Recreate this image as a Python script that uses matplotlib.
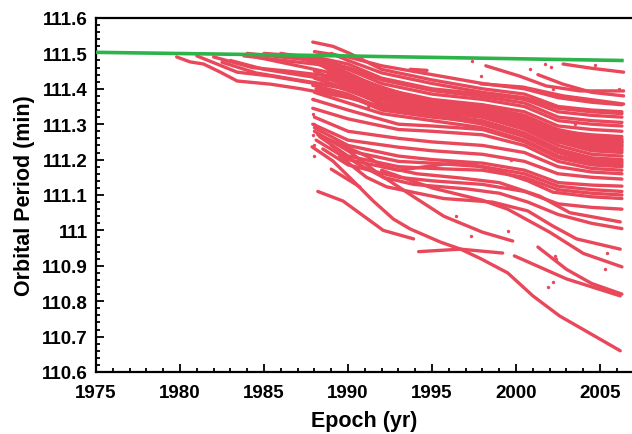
import matplotlib
matplotlib.use('Agg')
import matplotlib.pyplot as plt
from matplotlib.ticker import MultipleLocator, FuncFormatter

# --- datos: (epoca, periodo) ---
# linea verde (objeto principal)
green_years = [1975.0, 1987.0, 2006.3]
green_period = [111.503, 111.495, 111.480]

# abanico que empieza antes de 1988
fan_tracks = [
    [(1979.8, 111.49), (1980.6, 111.476), (1981.4, 111.47), (1982.4, 111.447), (1983.4, 111.422),
     (1985.4, 111.413), (1987.2, 111.40), (1988.9, 111.385), (1990, 111.375), (1992, 111.35),
     (1995, 111.335), (1998, 111.32), (2000.5, 111.29), (2002.5, 111.25), (2004.5, 111.24), (2006.3, 111.235)],
    [(1981, 111.493), (1983.4, 111.447), (1985.4, 111.436), (1988.9, 111.408), (1990, 111.40),
     (1992, 111.37), (1995, 111.345), (1998, 111.33), (2000.5, 111.305), (2002.5, 111.265),
     (2004.5, 111.255), (2006.3, 111.25)],
    [(1982, 111.49), (1984.3, 111.46), (1986.4, 111.45), (1988.9, 111.436), (1990, 111.425),
     (1992, 111.385), (1995, 111.355), (1998, 111.34), (2000.5, 111.32), (2002.5, 111.28),
     (2004.5, 111.27), (2006.3, 111.265)],
    [(1983.8, 111.493), (1988.9, 111.465), (1990, 111.445), (1992, 111.40), (1995, 111.37),
     (1998, 111.355), (2000.5, 111.335), (2002.5, 111.295), (2004.5, 111.285), (2006.3, 111.28)],
    [(1984, 111.50), (1988, 111.48), (1990, 111.455), (1992, 111.415), (1995, 111.385),
     (1998, 111.37), (2000.5, 111.35), (2002.5, 111.31), (2004.5, 111.30), (2006.3, 111.295)],
    [(1985, 111.50), (1988, 111.49), (1990, 111.47), (1992, 111.43), (1995, 111.40),
     (1998, 111.385), (2000.5, 111.37), (2002.5, 111.335), (2004.5, 111.325), (2006.3, 111.32)],
    [(1986.5, 111.495), (1988, 111.475), (1990, 111.44), (1992, 111.405), (1995, 111.36),
     (1998, 111.35), (2000.5, 111.325), (2002.5, 111.285), (2004.5, 111.265), (2006.3, 111.258)],
    [(1986, 111.50), (1988, 111.485), (1990, 111.46), (1992, 111.425), (1995, 111.395),
     (1998, 111.378), (2000.5, 111.36), (2002.5, 111.32), (2004.5, 111.31), (2006.3, 111.305)],
    [(1984.5, 111.49), (1987, 111.465), (1988.5, 111.45), (1990, 111.43), (1992, 111.39),
     (1995, 111.355), (1998, 111.34), (2000.5, 111.31), (2002.5, 111.27), (2004.5, 111.26), (2006.3, 111.255)],
    [(1983, 111.48), (1985, 111.455), (1987, 111.44), (1989, 111.425), (1990, 111.41),
     (1992, 111.375), (1995, 111.35), (1998, 111.33), (2000.5, 111.30), (2002.5, 111.26),
     (2004.5, 111.245), (2006.3, 111.24)],
    [(1982.5, 111.475), (1984.5, 111.445), (1987, 111.425), (1989, 111.41), (1990, 111.395),
     (1992, 111.36), (1995, 111.34), (1998, 111.325), (2000.5, 111.295), (2002.5, 111.255),
     (2004.5, 111.235), (2006.3, 111.23)],
]

# fragmentos que aparecen hacia 1988
band_tracks = [
    [(1988.0, 111.505), (1990, 111.49), (1992, 111.465), (1995, 111.44), (1998, 111.415),
     (2000.5, 111.40), (2002.5, 111.375), (2004.5, 111.362), (2006.3, 111.355)],
    [(1987.9, 111.532), (1989.1, 111.52), (1990.1, 111.50), (1992, 111.455), (1995, 111.425),
     (1998, 111.40), (2000.5, 111.385), (2002.5, 111.35), (2004.5, 111.34), (2006.3, 111.335)],
    [(1989, 111.50), (1990, 111.48), (1992, 111.445), (1995, 111.415), (1998, 111.39),
     (2000.5, 111.375), (2002.5, 111.345), (2004.5, 111.335), (2006.3, 111.33)],
    [(1988.3, 111.48), (1990, 111.43), (1992, 111.395), (1995, 111.365), (1998, 111.345),
     (2000.5, 111.31), (2002.5, 111.275), (2004.5, 111.245), (2006.3, 111.24)],
    [(1988.2, 111.47), (1990, 111.435), (1992, 111.39), (1995, 111.36), (1998, 111.34),
     (2000.5, 111.315), (2002.5, 111.27), (2004.5, 111.25), (2006.3, 111.245)],
    [(1988.5, 111.465), (1990, 111.415), (1992, 111.38), (1995, 111.35), (1998, 111.335),
     (2000.5, 111.30), (2002.5, 111.255), (2004.5, 111.23), (2006.3, 111.225)],
    [(1988.8, 111.44), (1990, 111.42), (1992, 111.385), (1995, 111.355), (1998, 111.34),
     (2000.5, 111.32), (2002.5, 111.28), (2004.5, 111.255), (2006.3, 111.25)],
    [(1988.0, 111.45), (1990, 111.41), (1992, 111.36), (1995, 111.34), (1998, 111.32),
     (2000.5, 111.285), (2002.5, 111.24), (2004.5, 111.215), (2006.3, 111.21)],
    [(1988.4, 111.44), (1990, 111.405), (1992, 111.37), (1995, 111.345), (1998, 111.325),
     (2000.5, 111.295), (2002.5, 111.25), (2004.5, 111.225), (2006.3, 111.22)],
    [(1988.0, 111.43), (1990, 111.40), (1992, 111.355), (1995, 111.33), (1998, 111.31),
     (2000.5, 111.275), (2002.5, 111.23), (2004.5, 111.205), (2006.3, 111.20)],
    [(1987.9, 111.41), (1990, 111.385), (1992, 111.345), (1995, 111.325), (1998, 111.30),
     (2000.5, 111.265), (2002.5, 111.22), (2004.5, 111.195), (2006.3, 111.19)],
    [(1988.1, 111.40), (1990, 111.38), (1992, 111.34), (1995, 111.32), (1998, 111.305),
     (2000.5, 111.27), (2002.5, 111.225), (2004.5, 111.20), (2006.3, 111.195)],
    [(1988, 111.39), (1990, 111.36), (1992, 111.33), (1995, 111.31), (1998, 111.29),
     (2000.5, 111.255), (2002.5, 111.21), (2004.5, 111.19), (2006.3, 111.185)],
    [(1987.9, 111.37), (1990, 111.34), (1993, 111.30), (1995, 111.295), (1998, 111.285),
     (2000.5, 111.25), (2002.5, 111.205), (2004.5, 111.185), (2006.3, 111.18)],
    [(1987.9, 111.345), (1990, 111.315), (1993, 111.285), (1995, 111.28), (1998, 111.27),
     (2000.5, 111.24), (2002.5, 111.195), (2004.5, 111.175), (2006.3, 111.17)],
    [(1988.0, 111.32), (1990, 111.28), (1993, 111.26), (1995, 111.25), (1998, 111.24),
     (2000.5, 111.22), (2002.5, 111.18), (2004.5, 111.165), (2006.3, 111.16)],
    [(1987.9, 111.30), (1990, 111.255), (1993, 111.235), (1995, 111.225), (1998, 111.215),
     (2000.5, 111.195), (2002.5, 111.16), (2004.5, 111.15), (2006.3, 111.145)],
    [(1988.0, 111.29), (1990, 111.24), (1993, 111.21), (1995, 111.20), (1998, 111.19),
     (2000.5, 111.17), (2002.5, 111.135), (2004.5, 111.128), (2006.3, 111.125)],
    [(1988.0, 111.28), (1990, 111.225), (1993, 111.195), (1995, 111.19), (1998, 111.18),
     (2000.5, 111.16), (2002.5, 111.125), (2004.5, 111.115), (2006.3, 111.11)],
    [(1988.3, 111.265), (1990, 111.21), (1993, 111.18), (1995, 111.175), (1998, 111.17),
     (2000.5, 111.15), (2002.5, 111.115), (2004.5, 111.105), (2006.3, 111.10)],
    [(1988.1, 111.255), (1990, 111.20), (1993, 111.17), (1996.7, 111.193), (1998.6, 111.173),
     (2000.7, 111.14), (2002.2, 111.108), (2004.5, 111.095), (2006.3, 111.09)],
    [(1988.5, 111.23), (1990, 111.185), (1993, 111.15), (1995, 111.14), (1998, 111.13),
     (2000.5, 111.11), (2002.5, 111.075), (2004.5, 111.065), (2006.3, 111.06)],
]

# trazas bajas que decaen mas deprisa
low_tracks = [
    [(1988.2, 111.27), (1989.7, 111.24), (1991.1, 111.21), (1992.1, 111.18), (1994.1, 111.16),
     (1996.7, 111.148), (1999.0, 111.135), (2001.4, 111.097), (2003.2, 111.05), (2006.2, 111.024)],
    [(1989.5, 111.21), (1991.1, 111.15), (1992.3, 111.123), (1995.7, 111.09), (1998.6, 111.08),
     (2000.7, 111.055), (2002.2, 111.012), (2003.6, 110.976), (2006.2, 110.947)],
    [(1989.7, 111.236), (1992.1, 111.15), (1993.9, 111.13), (1997.1, 111.117), (1999, 111.105),
     (2000.7, 111.08), (2002.5, 111.045), (2004.5, 111.02), (2006.3, 111.005)],
    [(1989.0, 111.24), (1990.5, 111.19), (1992.3, 111.145), (1994.1, 111.089), (1995.7, 111.04),
     (1998, 110.995), (1999.8, 110.97)],
    [(2001.3, 110.953), (2003, 110.89), (2004.5, 110.85), (2006.3, 110.82)],
    [(1992, 111.17), (1995, 111.12), (1998, 111.085), (1999.5, 111.06), (2002, 110.995),
     (2004, 110.935), (2006.3, 110.897)],
    [(1988.2, 111.11), (1989.7, 111.083), (1992.1, 111.0), (1993.9, 110.976)],
    [(1994.2, 110.94), (1996.7, 110.947), (1999.2, 110.936)],
    [(1999.9, 110.928), (2003.0, 110.863), (2006.2, 110.815)],
    [(1987.86, 111.236), (1989.1, 111.196), (1990.3, 111.14), (1991.5, 111.083), (1992.7, 111.032),
     (1993.7, 111.004), (1995.5, 110.967), (1996.7, 110.947), (1997.9, 110.92), (1999.5, 110.88),
     (2001.0, 110.815), (2002.6, 110.758), (2004.0, 110.72), (2006.2, 110.66)],
]

# trazas que empiezan tarde y trozos cortos
late_tracks = [
    [(2002.8, 111.47), (2004.5, 111.458), (2006.4, 111.447)],
    [(1998.2, 111.465), (2000.2, 111.436), (2001.8, 111.408), (2003.8, 111.394), (2006.4, 111.394)],
    [(2001.3, 111.44), (2002.8, 111.413), (2004.5, 111.39), (2006.4, 111.38)],
    [(1997.9, 111.414), (2000.4, 111.405), (2002.8, 111.38), (2006.4, 111.357)],
    [(1993.7, 111.455), (1994.7, 111.452)],
    [(1989.0, 111.173), (1990.7, 111.123)],
]

# puntos sueltos
dot_years = [1987.9, 1987.9, 1988.0, 1987.9, 1988.0, 1987.95, 1997.4, 2001.7, 2002.1, 2004.7,
             1997.9, 2000.8, 2006.1, 2002.2, 2001.3, 1997.3, 1999.5, 2001.9, 2002.2, 2002.3,
             2002.4, 2005.3, 2005.4, 1996.4, 1999.7, 2003.5, 1990.6, 1991.2]
dot_period = [111.37, 111.33, 111.30, 111.27, 111.24, 111.21, 111.478, 111.47, 111.462, 111.467,
              111.436, 111.456, 111.40, 111.40, 111.366, 110.985, 110.999, 110.84, 110.855, 110.928,
              110.92, 110.89, 110.935, 111.04, 111.20, 111.30, 111.17, 111.35]

RED = '#E9485B'
GREEN = '#2DB34A'

fig = plt.figure(figsize=(6.32, 4.35), dpi=100)
fig.set_facecolor('white')
ax = fig.add_axes([96 / 632, 62 / 435, 536 / 632, 354 / 435])

for track in fan_tracks + band_tracks + low_tracks + late_tracks:
    xs = [p[0] for p in track]
    ys = [p[1] for p in track]
    ax.plot(xs, ys, color=RED, lw=2.4, solid_capstyle='round', solid_joinstyle='round')

ax.scatter(dot_years, dot_period, s=6, color=RED, linewidths=0)
ax.plot(green_years, green_period, color=GREEN, lw=2.6, zorder=5)

ax.set_xlim(1975, 2006.9)
ax.set_ylim(110.6, 111.6)

ax.xaxis.set_major_locator(MultipleLocator(5))
ax.xaxis.set_minor_locator(MultipleLocator(1))
ax.yaxis.set_major_locator(MultipleLocator(0.1))
ax.yaxis.set_minor_locator(MultipleLocator(0.02))
ax.yaxis.set_major_formatter(FuncFormatter(lambda v, p: '%g' % round(v, 1)))

ax.tick_params(which='both', direction='in', top=False, right=False, width=1.3)
ax.tick_params(which='major', length=6, labelsize=13.5)
ax.tick_params(axis='x', which='major', pad=9)
ax.tick_params(axis='y', which='major', pad=6)
ax.tick_params(which='minor', length=3)
for lab in ax.get_xticklabels() + ax.get_yticklabels():
    lab.set_fontweight('bold')
    lab.set_family('Liberation Sans')

for side in ['left', 'bottom', 'top']:
    ax.spines[side].set_linewidth(1.6)
ax.spines['right'].set_visible(False)

ax.set_xlabel('Epoch (yr)', fontsize=15.5, fontweight='bold', family='Liberation Sans', labelpad=6)
ax.set_ylabel('Orbital Period (min)', fontsize=15.5, fontweight='bold', family='Liberation Sans', labelpad=5)

plt.savefig('out.png', dpi=100, facecolor='white')
